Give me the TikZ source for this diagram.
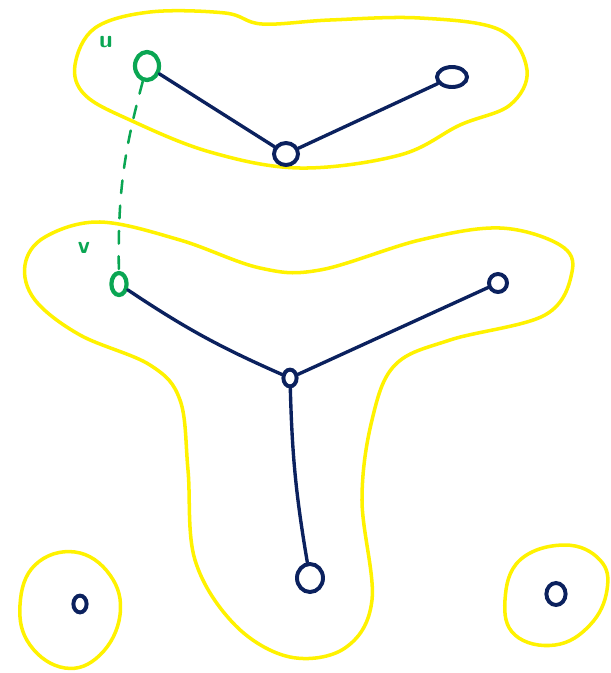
\documentclass[tikz,border=0pt]{standalone}
\usetikzlibrary{shapes.geometric, positioning}

\definecolor{hlyellow}{HTML}{FFF200}
\definecolor{inknavy}{HTML}{0B215E}
\definecolor{inkgreen}{HTML}{0AA653}

\begin{document}
\begin{tikzpicture}[
    x=0.025cm, y=-0.025cm,
    vert/.style={ellipse, draw=inknavy, line width=2.8pt, inner sep=0pt},
    gvert/.style={ellipse, draw=inkgreen, line width=3pt, inner sep=0pt},
    edge/.style={draw=inknavy, line width=2.4pt, line cap=round},
    dashedge/.style={draw=inkgreen, line width=1.8pt, dashed, dash pattern=on 9pt off 9pt, line cap=round},
    blob/.style={draw=hlyellow, line width=2.5pt, line cap=round},
    lbl/.style={text=inkgreen, font=\sffamily\bfseries\LARGE}
]
\useasboundingbox (0,0) rectangle (611,673);

% ============ YELLOW COMPONENTS ============
\draw[blob] plot[smooth cycle, tension=0.6] coordinates {
    (75,65) (95,28) (150,12) (225,13) (262,24) (330,20) (420,18) (500,30)
    (527,70) (510,105) (460,125) (400,155) (300,168) (210,152) (130,120) (85,95)};

\draw[blob] plot[smooth cycle, tension=0.6] coordinates {
    (25,265) (45,237) (100,222) (180,240) (260,268) (320,270) (420,240) (500,228)
    (560,245) (572,272) (545,315) (450,340) (395,365) (372,420) (362,500) (372,600)
    (345,648) (290,657) (235,625) (195,560) (188,470) (180,400) (150,365) (80,335) (35,300)};

\draw[blob] plot[smooth cycle, tension=0.7] coordinates {
    (20,605) (35,565) (75,552) (110,575) (120,615) (100,655) (65,668) (30,645)};

\draw[blob] plot[smooth cycle, tension=0.7] coordinates {
    (505,600) (520,560) (565,545) (600,560) (607,590) (590,625) (555,645) (515,635)};

% ============ VERTICES ============
\node[gvert, minimum width=0.6cm, minimum height=0.7cm] (u) at (147,66) {};
\node[vert, minimum width=0.75cm, minimum height=0.5cm] (a) at (452,77) {};
\node[vert, minimum width=0.6cm, minimum height=0.55cm] (b) at (286,154) {};

\node[gvert, minimum width=0.38cm, minimum height=0.55cm] (v) at (119,284) {};
\node[vert, minimum width=0.45cm, minimum height=0.45cm] (c) at (498,283) {};
\node[vert, minimum width=0.33cm, minimum height=0.42cm] (m) at (290,378) {};
\node[vert, minimum width=0.65cm, minimum height=0.7cm] (d) at (310,578) {};

\node[vert, minimum width=0.33cm, minimum height=0.42cm] (p) at (80,604) {};
\node[vert, minimum width=0.48cm, minimum height=0.55cm] (q) at (556,594) {};

% labels
\node[lbl] (ulbl) at (106,42) {u};
\node[lbl] (vlbl) at (84,248) {v};

% ============ EDGES ============
\draw[edge] (u) -- (b);
\draw[edge] (b) -- (a);
\draw[edge] (v) to[bend right=5] (m);
\draw[edge] (m) -- (c);
\draw[edge] (m) to[bend right=4] (d);

\draw[dashedge] (u) to[bend right=8] (v);

\end{tikzpicture}
\end{document}
